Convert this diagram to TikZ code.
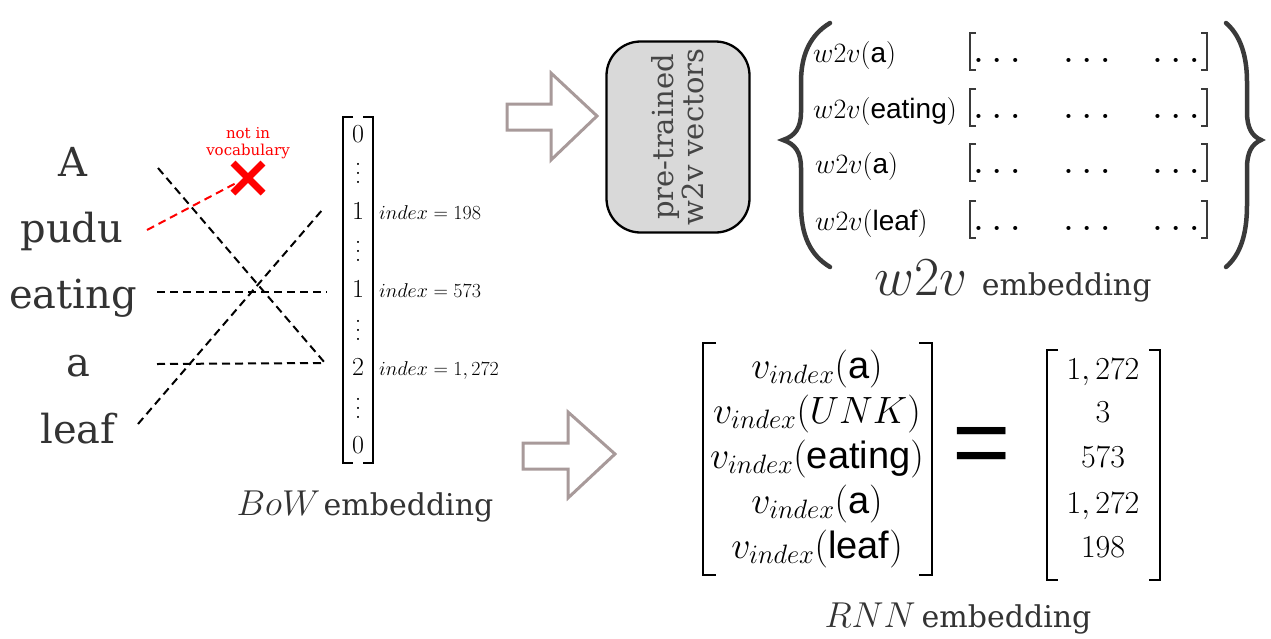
\RequirePackage{fix-cm}
\documentclass[tikz,border=0pt]{standalone}
\usepackage[no-math]{fontspec}
\usepackage{amsmath}
\usetikzlibrary{calc}
\newfontfamily\slab{DejaVu Serif}
\newfontfamily\rob{Liberation Sans}
\newcommand\sw[1]{{\rob #1}}
\newcommand\bvdots{\vbox{\baselineskip=9pt\lineskiplimit=-20pt\hbox{\smash{.}}\hbox{\smash{.}}\hbox{\smash{.}}}}
\definecolor{txt}{HTML}{333333}
\definecolor{arrowc}{HTML}{A89A9A}
\definecolor{boxfill}{HTML}{D9D9D9}
\definecolor{xred}{HTML}{FF0000}
\definecolor{brc}{HTML}{3A3A3A}
\begin{document}
\begin{tikzpicture}[x=1pt,y=-1pt,
  word/.style={font=\slab\fontsize{40}{46}\selectfont, text=txt, anchor=base, inner sep=0pt},
  dline/.style={dash pattern=on 8pt off 5pt, line width=2pt},
  bowent/.style={font=\fontsize{26}{30}\selectfont, anchor=base, inner sep=0pt},
  bowdots/.style={font=\fontsize{26}{30}\selectfont, anchor=center, inner sep=0pt},
  idx/.style={font=\fontsize{20}{22}\selectfont, anchor=base west, inner sep=0pt},
  brk/.style={line width=2pt, black},
  hollow/.style={draw=arrowc, line width=3pt, fill=white, line join=miter},
  w2vbox/.style={draw, line width=2.3pt, fill=boxfill, rounded corners=34pt, rotate=90,
    minimum width=191pt, minimum height=143pt, align=center, text=black!73,
    font=\slab\fontsize{29}{30}\selectfont},
  w2vrow/.style={font=\fontsize{28}{30}\selectfont, anchor=base west, inner sep=0pt},
  dotsn/.style={font=\fontsize{42}{44}\selectfont, anchor=base, inner sep=0pt},
  thinbrk/.style={line width=1.3pt, brc},
  brace/.style={line width=4.5pt, brc, line cap=round},
  rnnrow/.style={font=\fontsize{38}{40}\selectfont, anchor=base, inner sep=0pt},
  numrow/.style={font=\fontsize{32}{36}\selectfont, anchor=base, inner sep=0pt},
  caption/.style={anchor=base, inner sep=0pt, text=txt},
  redx/.style={xred, line width=7pt}
]
\useasboundingbox (0,0) rectangle (1271,638);

% ---- words
\node[word] (wA) at (73,176) {A};
\node[word] (wpudu) at (72,242) {pudu};
\node[word] (weating) at (73,308) {eating};
\node[word] (wa) at (78,376) {a};
\node[word] (wleaf) at (78,443) {leaf};

% ---- BoW vector
\node[bowent] (b0) at (358,142) {$0$};
\node[bowdots] (d1) at (358,174) {\bvdots};
\node[bowent] (b198) at (358,219) {$1$};
\node[bowdots] (d2) at (358,252) {\bvdots};
\node[bowent] (b573) at (358,297) {$1$};
\node[bowdots] (d3) at (358,331) {\bvdots};
\node[bowent] (b1272) at (358,375) {$2$};
\node[bowdots] (d4) at (358,409) {\bvdots};
\node[bowent] (bend) at (358,453) {$0$};
\draw[brk] (353,117) -- (343,117) -- (343,463) -- (353,463);
\draw[brk] (363,117) -- (373,117) -- (373,463) -- (363,463);
\node[idx] (i198) at (379,219) {$index=198$};
\node[idx] (i573) at (379,297) {$index=573$};
\node[idx] (i1272) at (379,375) {$index=1,272$};
\node[caption] (bowcap) at (365,515) {{\fontsize{36}{40}\selectfont$BoW$} {\slab\fontsize{30}{36}\selectfont embedding}};

% ---- connectors
\coordinate (sA) at (158,168);
\coordinate (spudu) at (147,230);
\coordinate (seating) at (157,292);
\coordinate (sa) at (157,364);
\coordinate (sleaf) at (138,424);
\coordinate (t198) at (323,209);
\coordinate (t573) at (327,292);
\coordinate (t1272) at (325,363);
\coordinate (X) at (248,178);
\coordinate (Xhit) at (238,182);
\draw[dline] (sA) -- (t1272);
\draw[dline] (seating) -- (t573);
\draw[dline] (sa) -- (t1272);
\draw[dline] (sleaf) -- (t198);
\draw[dline, xred] (spudu) -- (Xhit);
\draw[redx] ($(X)+(-15,-15)$) -- ($(X)+(15,15)$);
\draw[redx] ($(X)+(15,-15)$) -- ($(X)+(-15,15)$);
\node[text=xred, align=center, font=\slab\fontsize{15}{17}\selectfont, inner sep=0pt] (niv) at (248,143) {not in\\vocabulary};

% ---- hollow arrows
\draw[hollow] (507,104) -- (551,104) -- (551,73) -- (597,116) -- (551,160) -- (551,130) -- (507,130) -- cycle;
\draw[hollow] (523,443) -- (568,443) -- (568,412) -- (615,454) -- (568,498) -- (568,469) -- (523,469) -- cycle;

% ---- pre-trained box
\node[w2vbox] (box) at (678,137) {pre-trained\\w2v vectors};

% ---- w2v table
\node[w2vrow] (r1) at (813,62) {$w2v($\sw{a}$)$};
\node[w2vrow] (r2) at (813,118) {$w2v($\sw{eating}$)$};
\node[w2vrow] (r3) at (815,173) {$w2v($\sw{a}$)$};
\node[w2vrow] (r4) at (815,230) {$w2v($\sw{leaf}$)$};
\foreach \yb in {62,118,173,230}{
  \draw[thinbrk] (976,\yb-29) -- (970,\yb-29) -- (970,\yb+8) -- (976,\yb+8);
  \draw[thinbrk] (1201,\yb-29) -- (1207,\yb-29) -- (1207,\yb+8) -- (1201,\yb+8);
  \node[dotsn] at (997,\yb) {$\ldots$};
  \node[dotsn] at (1087,\yb) {$\ldots$};
  \node[dotsn] at (1176,\yb) {$\ldots$};
}
\draw[brace] (830,23) .. controls (810,35) and (801,55) .. (801,82) -- (801,112)
  .. controls (801,128) and (795,136) .. (783,140)
  .. controls (795,144) and (801,152) .. (801,168) -- (801,205)
  .. controls (801,235) and (810,255) .. (830,267);
\draw[brace] (1226,23) .. controls (1240,35) and (1247,55) .. (1247,82) -- (1247,112)
  .. controls (1247,128) and (1252,136) .. (1261,140)
  .. controls (1252,144) and (1247,152) .. (1247,168) -- (1247,205)
  .. controls (1247,235) and (1240,255) .. (1226,267);
\node[caption] (w2vcap) at (1013,295) {{\fontsize{55}{58}\selectfont$w2v$}\hspace{14pt}{\slab\fontsize{30}{36}\selectfont embedding}};

% ---- RNN embedding
\node[rnnrow] (v1) at (817,378) {$v_{index}($\sw{a}$)$};
\node[rnnrow] (v2) at (817,423) {$v_{index}(UNK)$};
\node[rnnrow] (v3) at (817,468) {$v_{index}($\sw{eating}$)$};
\node[rnnrow] (v4) at (817,513) {$v_{index}($\sw{a}$)$};
\node[rnnrow] (v5) at (817,558) {$v_{index}($\sw{leaf}$)$};
\draw[brk, line width=2.5pt] (716,343) -- (703,343) -- (703,575) -- (716,575);
\draw[brk, line width=2.5pt] (919,343) -- (932,343) -- (932,575) -- (919,575);
\node[inner sep=0pt, font=\rob\fontsize{100}{100}\selectfont] (eq) at (982,452) {=};
\node[numrow] (n1) at (1103,379) {$1,272$};
\node[numrow] (n2) at (1103,422) {$3$};
\node[numrow] (n3) at (1103,467) {$573$};
\node[numrow] (n4) at (1103,513) {$1,272$};
\node[numrow] (n5) at (1103,557) {$198$};
\draw[brk, line width=2.5pt] (1058,350) -- (1047,350) -- (1047,580) -- (1058,580);
\draw[brk, line width=2.5pt] (1149,350) -- (1160,350) -- (1160,580) -- (1149,580);
\node[caption] (rnncap) at (958,627) {{\fontsize{36}{40}\selectfont$RNN$}\hspace{6pt}{\slab\fontsize{30}{36}\selectfont embedding}};
\end{tikzpicture}
\end{document}
